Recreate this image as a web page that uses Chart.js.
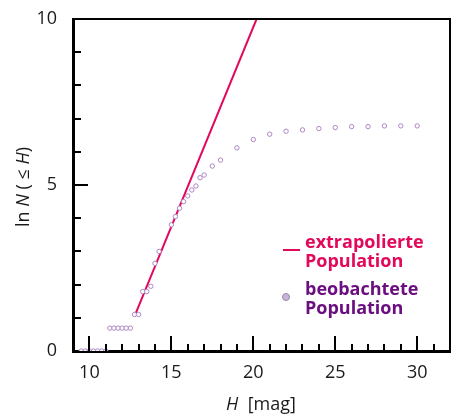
<!DOCTYPE html>
<html>
<head>
<meta charset="utf-8">
<script src="https://cdn.jsdelivr.net/npm/chart.js@4/dist/chart.umd.min.js"></script>
<style>
  html, body { margin: 0; padding: 0; background: #fff; }
</style>
</head>
<body>
<canvas id="myChart" width="457" height="418"></canvas>
<script>
// beobachtete Population: H [mag] / ln N(<=H)
const obsH = [9.5, 9.75, 10, 10.25, 10.5, 10.75, 11,
  11.25, 11.5, 11.75, 12, 12.25, 12.5,
  12.75, 13, 13.25, 13.5, 13.75, 14, 14.25, 15,
  15.25, 15.5, 15.75, 16, 16.25, 16.5, 16.75, 17, 17.5, 18,
  19, 20, 21, 22, 23, 24, 25, 26, 27, 28, 29, 30];
const obsLnN = [0, 0, 0, 0, 0, 0, 0,
  0.69, 0.69, 0.69, 0.69, 0.69, 0.69,
  1.10, 1.10, 1.79, 1.79, 1.95, 2.64, 3.0, 3.8,
  4.05, 4.3, 4.5, 4.67, 4.85, 4.97, 5.22, 5.30, 5.57, 5.75,
  6.12, 6.37, 6.53, 6.62, 6.66, 6.70, 6.73, 6.76, 6.76, 6.78, 6.78, 6.78];

// extrapolierte Population (Gerade)
const fitH = [12.8, 20.2];
const fitLnN = [1.1, 10];

const xTicks = [10, 15, 20, 25, 30];
const yTicks = [0, 5, 10];

const PINK = '#e2095c';
const PURPLE = '#6b0f80';
const DOT = '#ad86c6';
const FONT = '"Open Sans", sans-serif';

const toPoints = (xs, ys) => xs.map((v, i) => ({x: v, y: ys[i]}));

// inward ticks, frame, axis titles and legend
const decor = {
  id: 'decor',
  afterDraw(chart) {
    const {ctx, chartArea: a, scales: {x, y}} = chart;
    ctx.save();
    ctx.strokeStyle = '#000';
    ctx.lineWidth = 2;
    ctx.beginPath();
    ctx.moveTo(a.left, a.top);
    ctx.lineTo(a.right, a.top);
    ctx.lineTo(a.right, a.bottom);
    ctx.stroke();

    ctx.lineWidth = 2;
    ctx.beginPath();
    for (let v = 10; v <= 31; v++) {
      const px = Math.round(x.getPixelForValue(v));
      const len = v % 5 == 0 ? 15 : 7;
      ctx.moveTo(px, a.bottom);
      ctx.lineTo(px, a.bottom - len);
    }
    for (let v = 1; v <= 9; v++) {
      const py = Math.round(y.getPixelForValue(v));
      const len = v % 5 == 0 ? 15 : 8;
      ctx.moveTo(a.left, py);
      ctx.lineTo(a.left + len, py);
    }
    ctx.stroke();

    // axis titles with italic variables
    const drawParts = (parts, cx, cy) => {
      let w = 0;
      parts.forEach(p => { ctx.font = p[1] + ' 18px ' + FONT; w += ctx.measureText(p[0]).width; });
      let cur = cx - w / 2;
      parts.forEach(p => {
        ctx.font = p[1] + ' 18px ' + FONT;
        ctx.fillText(p[0], cur, cy);
        cur += ctx.measureText(p[0]).width;
      });
    };
    ctx.fillStyle = '#1a1a1a';
    ctx.textBaseline = 'middle';
    ctx.textAlign = 'left';
    drawParts([['H', 'italic'], ['  [mag]', 'normal']], 261, 405);
    ctx.save();
    ctx.translate(24, 187);
    ctx.rotate(-Math.PI / 2);
    drawParts([['ln ', 'normal'], ['N', 'italic'], [' ( \u2264 ', 'normal'], ['H', 'italic'], [')', 'normal']], 0, 0);
    ctx.restore();

    // legend
    ctx.strokeStyle = PINK;
    ctx.lineWidth = 2;
    ctx.beginPath();
    ctx.moveTo(283, 250);
    ctx.lineTo(300, 250);
    ctx.stroke();
    ctx.beginPath();
    ctx.arc(286, 297, 3.5, 0, Math.PI * 2);
    ctx.fillStyle = '#c9b6d6';
    ctx.fill();
    ctx.strokeStyle = '#9a86a8';
    ctx.lineWidth = 1;
    ctx.stroke();
    ctx.textBaseline = 'alphabetic';
    ctx.font = 'bold 18px ' + FONT;
    ctx.fillStyle = PINK;
    ctx.fillText('extrapolierte', 305, 248);
    ctx.fillText('Population', 305, 267);
    ctx.fillStyle = PURPLE;
    ctx.fillText('beobachtete', 305, 295);
    ctx.fillText('Population', 305, 314);
    ctx.restore();
  }
};

new Chart(document.getElementById('myChart'), {
  type: 'scatter',
  data: {
    datasets: [
      {
        label: 'beobachtete Population',
        data: toPoints(obsH, obsLnN),
        pointRadius: 2.2,
        pointBorderWidth: 1,
        borderColor: DOT,
        backgroundColor: '#fff',
      },
      {
        type: 'line',
        label: 'extrapolierte Population',
        data: toPoints(fitH, fitLnN),
        borderColor: PINK,
        borderWidth: 2,
        pointRadius: 0,
        fill: false,
      }
    ]
  },
  options: {
    responsive: false,
    animation: false,
    layout: { padding: { top: 19, right: 7, left: 0, bottom: 0 } },
    plugins: {
      legend: { display: false },
      tooltip: { enabled: false },
    },
    scales: {
      x: {
        type: 'linear',
        min: 9,
        max: 32,
        afterBuildTicks: s => { s.ticks = xTicks.map(v => ({value: v})); },
        afterFit: s => { s.height = 67; },
        grid: { display: false },
        border: { display: true, color: '#000', width: 3 },
        ticks: { color: '#1a1a1a', font: { family: FONT, size: 18 }, padding: 3, maxRotation: 0 },
      },
      y: {
        type: 'linear',
        min: 0,
        max: 10,
        afterBuildTicks: s => { s.ticks = yTicks.map(v => ({value: v})); },
        afterFit: s => { s.width = 73; },
        grid: { display: false },
        border: { display: true, color: '#000', width: 3 },
        ticks: { color: '#1a1a1a', font: { family: FONT, size: 18 }, padding: 8 },
      }
    }
  },
  plugins: [decor]
});
</script>
</body>
</html>
